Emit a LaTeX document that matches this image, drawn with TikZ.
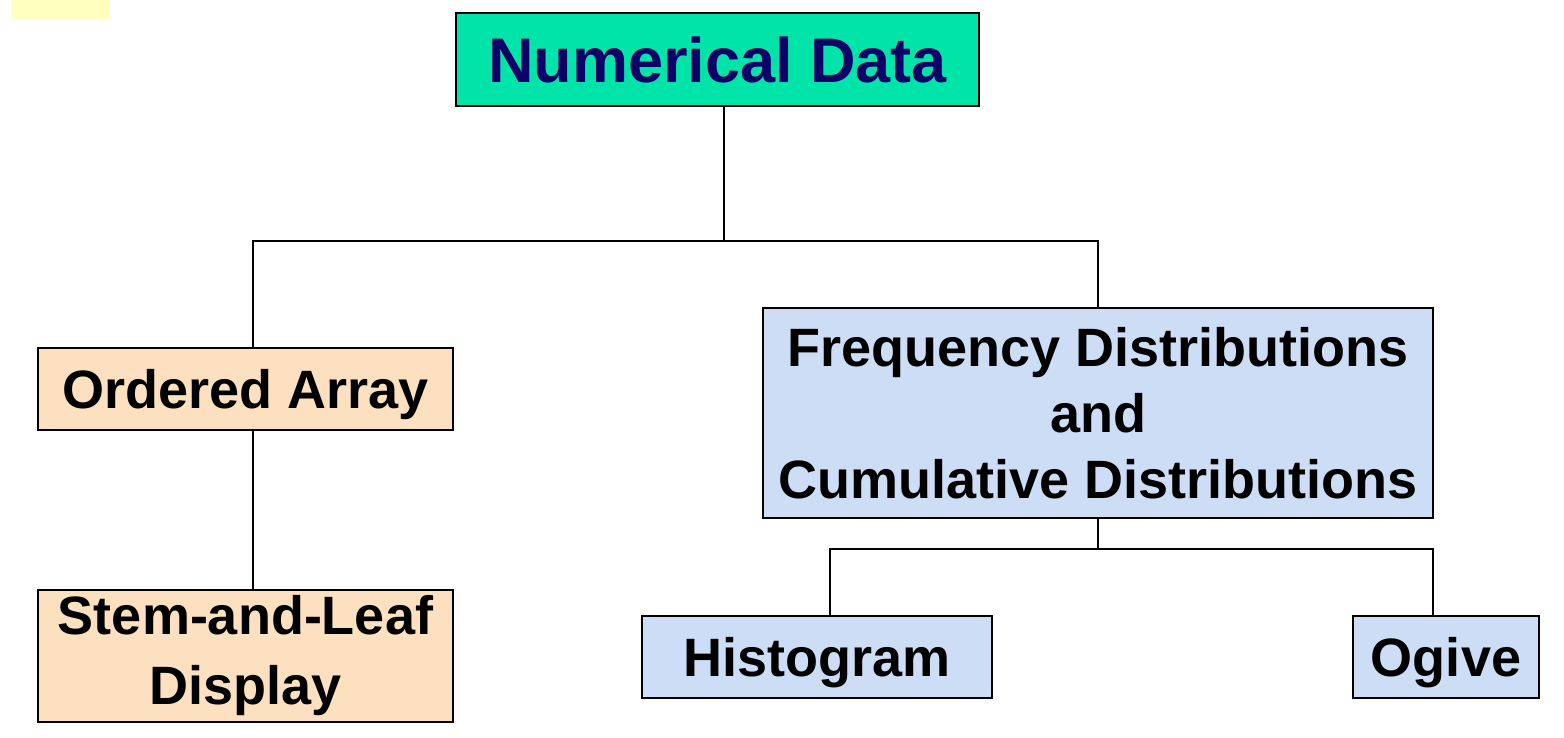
\documentclass[tikz,border=0pt]{standalone}
\usepackage{fontspec}
\setmainfont{Liberation Sans}
\definecolor{hdrfill}{RGB}{0,228,170}
\definecolor{hdrtext}{RGB}{13,0,102}
\definecolor{peach}{RGB}{252,224,192}
\definecolor{paleblue}{RGB}{204,221,245}
\definecolor{paleyellow}{RGB}{255,255,192}
\tikzset{
  box/.style={draw=black, line width=2pt, inner sep=0pt, align=center,
    font=\fontsize{54}{68}\selectfont\bfseries},
  onebox/.style={box, text depth=0pt},
  link/.style={draw=black, line width=2.4pt},
}
\begin{document}
\begin{tikzpicture}[x=1pt,y=-1pt]
\useasboundingbox (0,0) rectangle (1564,737);
\fill[paleyellow] (11,0) rectangle (110,19);
\node[box, fill=hdrfill, text=hdrtext, minimum width=523pt, minimum height=93pt,
  font=\fontsize{63}{70}\selectfont\bfseries] (nd) at (717.5,59.5) {Numerical Data};
\node[onebox, fill=peach, minimum width=415pt, minimum height=82pt] (oa) at (245.5,389) {Ordered Array};
\node[box, fill=peach, minimum width=415pt, minimum height=132pt,
  font=\fontsize{54}{70}\selectfont\bfseries] (sl) at (245.5,656) {Stem-and-Leaf\\Display};
\node[box, fill=paleblue, minimum width=670pt, minimum height=210pt,
  font=\fontsize{54}{66}\selectfont\bfseries] (fd) at (1098,413) {Frequency Distributions\\and\\Cumulative Distributions};
\node[onebox, fill=paleblue, minimum width=350pt, minimum height=82pt] (hi) at (817,657) {Histogram};
\node[onebox, fill=paleblue, minimum width=186pt, minimum height=82pt] (og) at (1446,657) {Ogive};
\coordinate (j1) at (724,241);
\coordinate (jl) at (253,241);
\coordinate (jr) at (1098,241);
\coordinate (j2) at (1098,549);
\coordinate (j2l) at (830,549);
\coordinate (j2r) at (1433,549);
\draw[link] (nd.south -| j1) -- (j1);
\draw[link] (jl |- oa.north) -- (jl) -- (jr) -- (fd.north);
\draw[link] (jl |- oa.south) -- (jl |- sl.north);
\draw[link] (fd.south) -- (j2);
\draw[link] (j2l |- hi.north) -- (j2l) -- (j2r) -- (j2r |- og.north);
\end{tikzpicture}
\end{document}
